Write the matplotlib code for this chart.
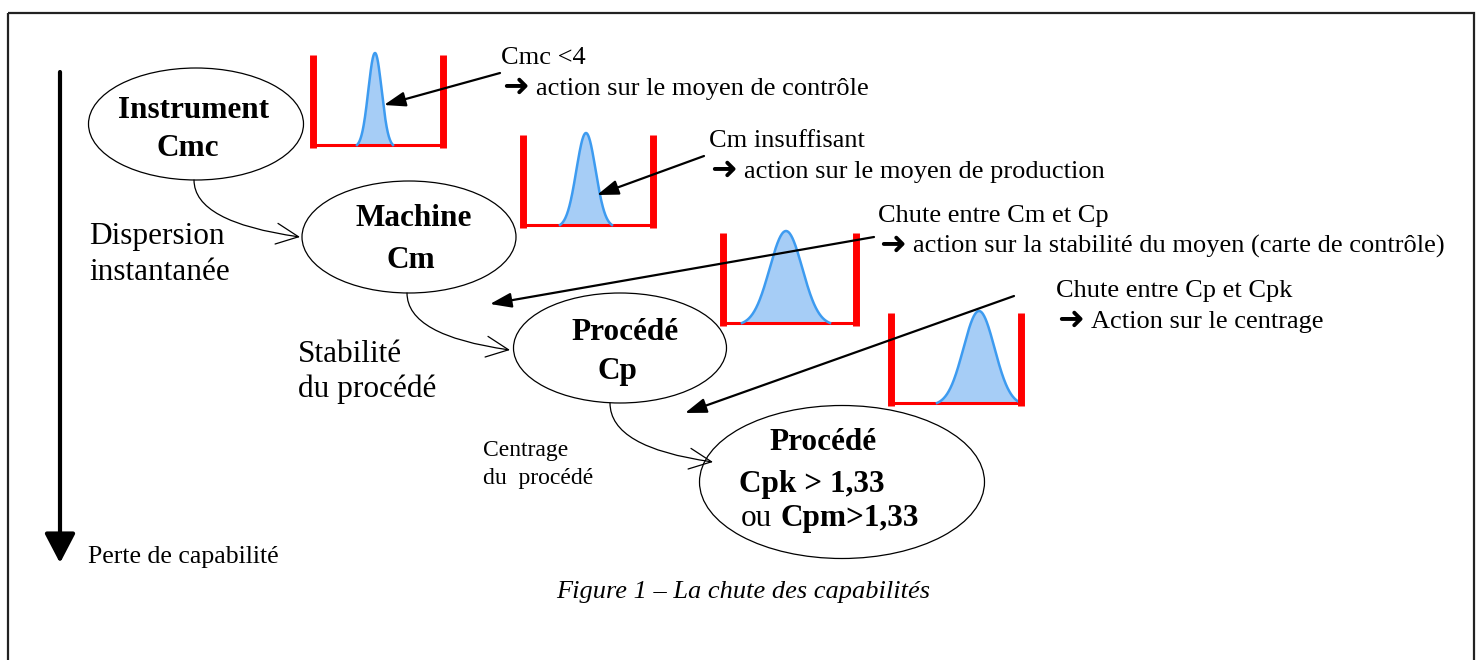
import numpy as np
import matplotlib
matplotlib.use("Agg")
import matplotlib.pyplot as plt
from matplotlib.patches import Ellipse, FancyArrowPatch, Rectangle, ArrowStyle

plt.rcParams['font.family'] = ['Liberation Serif', 'DejaVu Sans']

# --- données (coordonnées en pixels, y vers le bas) ---
# ellipses : centre x, centre y, largeur, hauteur
ell_x = [196, 409, 620, 842]
ell_y = [124, 237, 348, 482]
ell_w = [215, 214, 213, 285]
ell_h = [112, 112, 110, 153]

# petits histogrammes : borne gauche, borne droite, haut, bas, moyenne, demi-base, sommet
hist_left = [313, 523, 723, 891]
hist_right = [443, 653, 856, 1021]
hist_top = [55, 135, 233, 313]
hist_bottom = [145, 225, 323, 403]
hist_mu = [375, 586, 786, 979]
hist_half = [18, 26, 44, 42]
hist_peak = [53, 133, 231, 311]

# flèches droites (départ -> pointe)
fl_x0 = [500, 704, 874, 1014]
fl_y0 = [73, 156, 237, 296]
fl_x1 = [384, 597, 490, 685]
fl_y1 = [105, 195, 304, 413]

# liaisons courbes entre ellipses
lien_x0 = [194, 407, 610]
lien_y0 = [180, 293, 403]
lien_x1 = [300, 510, 713]
lien_y1 = [237, 350, 462]

# commentaires : x, ligne du haut, ligne du bas (après la flèche)
notes_x = [501, 709, 878, 1056]
notes_y = [64, 147, 222, 297]
notes_titre = ["Cmc <4", "Cm insuffisant", "Chute entre Cm et Cp", "Chute entre Cp et Cpk"]
notes_action = ["action sur le moyen de contrôle",
                "action sur le moyen de production",
                "action sur la stabilité du moyen (carte de contrôle)",
                "Action sur le centrage"]

fig = plt.figure(figsize=(14.8, 6.6), dpi=100)
ax = fig.add_axes([0, 0, 1, 1])
ax.set_xlim(0, 1480)
ax.set_ylim(660, 0)
ax.axis('off')

# cadre
ax.add_patch(Rectangle((8, 13), 1466, 700, fill=False, lw=1.6, ec='#222222'))

# flèche verticale "perte de capabilité"
ax.add_patch(FancyArrowPatch((60, 72), (60, 563),
                             arrowstyle=ArrowStyle('-|>', head_length=0.9, head_width=0.47),
                             mutation_scale=20, lw=3, color='black',
                             shrinkA=0, shrinkB=0))
ax.text(88, 563, "Perte de capabilité", fontsize=18.5, ha='left', va='baseline')

# ellipses
for cx, cy, w, h in zip(ell_x, ell_y, ell_w, ell_h):
    ax.add_patch(Ellipse((cx, cy), w, h, fill=False, lw=0.9, ec='black'))

gras = dict(fontsize=22.5, fontweight='bold', va='baseline')
ax.text(194, 118, "Instrument", ha='center', **gras)
ax.text(188, 156, "Cmc", ha='center', **gras)
ax.text(414, 226, "Machine", ha='center', **gras)
ax.text(411, 268, "Cm", ha='center', **gras)
ax.text(625, 340, "Procédé", ha='center', **gras)
ax.text(617, 379, "Cp", ha='center', **gras)
ax.text(823, 450, "Procédé", ha='center', **gras)
ax.text(739, 492, "Cpk > 1,33", ha='left', **gras)
ax.text(741, 526, "ou", ha='left', fontsize=22.5, va='baseline')
ax.text(781, 526, "Cpm>1,33", ha='left', **gras)

# textes des liaisons
ax.text(89, 244, "Dispersion", fontsize=22.5, va='baseline')
ax.text(89, 280, "instantanée", fontsize=22.5, va='baseline')
ax.text(298, 362, "Stabilité", fontsize=22.5, va='baseline')
ax.text(298, 397, "du procédé", fontsize=22.5, va='baseline')
ax.text(483, 456, "Centrage", fontsize=17, va='baseline')
ax.text(483, 484, "du  procédé", fontsize=17, va='baseline')

# liaisons courbes
for x0, y0, x1, y1 in zip(lien_x0, lien_y0, lien_x1, lien_y1):
    ax.add_patch(FancyArrowPatch((x0, y0), (x1, y1),
                                 connectionstyle="angle3,angleA=90,angleB=-8",
                                 arrowstyle=ArrowStyle('->', head_length=1.6, head_width=0.75),
                                 mutation_scale=10, lw=0.9, color='black',
                                 shrinkA=0, shrinkB=0))

# histogrammes avec tolérances (cloche tronquée à ±2,7 sigma)
k = 2.7
ek = np.exp(-0.5 * k ** 2)
for i in range(4):
    l, r, t, b = hist_left[i], hist_right[i], hist_top[i], hist_bottom[i]
    mu, hw, pk = hist_mu[i], hist_half[i], hist_peak[i]
    sg = hw / k
    xs = np.linspace(max(l, mu - hw), min(r, mu + hw), 200)
    g = (np.exp(-0.5 * ((xs - mu) / sg) ** 2) - ek) / (1 - ek)
    ys = b - (b - pk) * g
    ax.fill_between(xs, ys, b, color='#A6CDF6', lw=0, zorder=2)
    ax.plot(xs, ys, color='#3D9BF0', lw=1.8, zorder=3)
    ax.plot([l, r], [b, b], color='#FF0000', lw=2.2, zorder=2.5, solid_capstyle='butt')
    ax.plot([l, l], [t, b + 3], color='#FF0000', lw=5, zorder=4, solid_capstyle='butt')
    ax.plot([r, r], [t, b + 3], color='#FF0000', lw=5, zorder=4, solid_capstyle='butt')

# flèches droites vers les courbes
for x0, y0, x1, y1 in zip(fl_x0, fl_y0, fl_x1, fl_y1):
    ax.add_patch(FancyArrowPatch((x0, y0), (x1, y1),
                                 arrowstyle=ArrowStyle('-|>', head_length=1.3, head_width=0.45),
                                 mutation_scale=10, lw=1.6, color='black',
                                 shrinkA=0, shrinkB=0, zorder=5))

for x, y, titre, action in zip(notes_x, notes_y, notes_titre, notes_action):
    ax.text(x, y, titre, fontsize=19, ha='left', va='baseline')
    ax.text(x + 1, y + 32, "\u279c", fontsize=23, fontweight='bold',
            family='DejaVu Sans', ha='left', va='baseline')
    ax.text(x + 35, y + 31, action, fontsize=19, ha='left', va='baseline')

ax.text(743, 598, "Figure 1 – La chute des capabilités", fontsize=19,
        style='italic', ha='center', va='baseline')

fig.savefig("out.png", dpi=100)
